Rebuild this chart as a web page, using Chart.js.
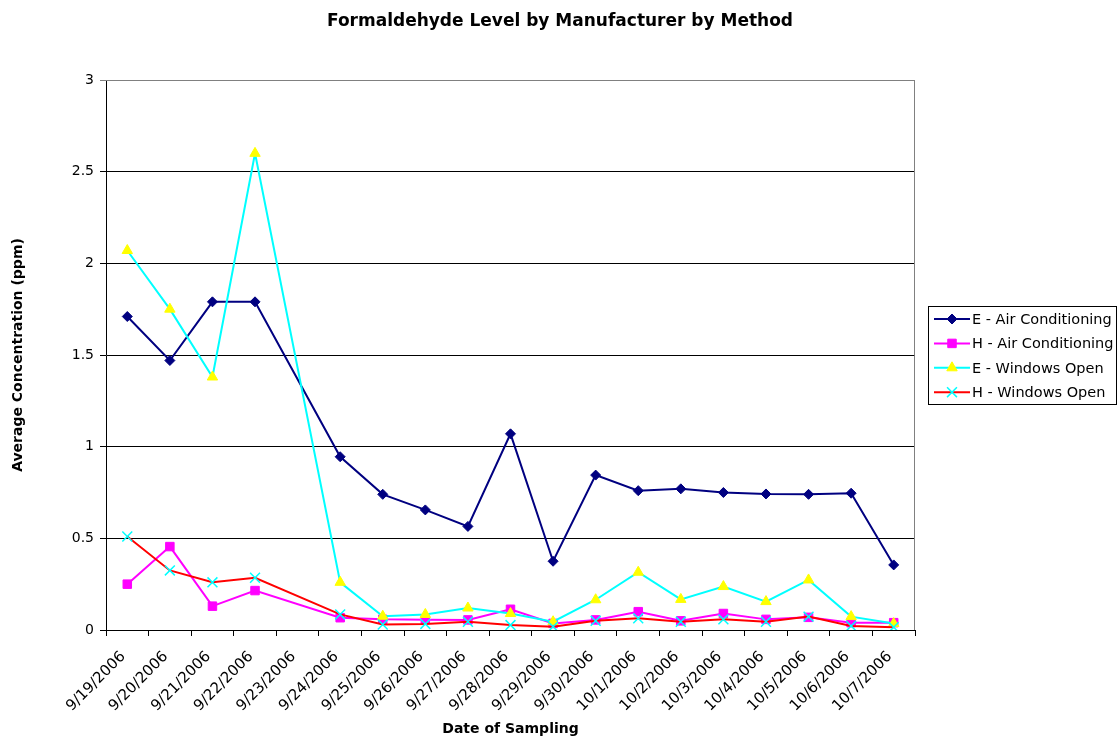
<!DOCTYPE html>
<html>
<head>
<meta charset="utf-8">
<title>Formaldehyde Level by Manufacturer by Method</title>
<script src="https://cdn.jsdelivr.net/npm/chart.js@4.4.1/dist/chart.umd.min.js"></script>
<style>
  html, body { margin: 0; padding: 0; background: #fff; }
  #wrap { width: 1120px; height: 738px; }
</style>
</head>
<body>
<div id="wrap"><canvas id="formChart" width="1120" height="738"></canvas></div>
<script>
const chartTitle = 'Formaldehyde Level by Manufacturer by Method';
const xTitle = 'Date of Sampling';
const yTitle = 'Average Concentration (ppm)';

const dates = ['9/19/2006', '9/20/2006', '9/21/2006', '9/22/2006', '9/23/2006', '9/24/2006', '9/25/2006',
  '9/26/2006', '9/27/2006', '9/28/2006', '9/29/2006', '9/30/2006', '10/1/2006', '10/2/2006',
  '10/3/2006', '10/4/2006', '10/5/2006', '10/6/2006', '10/7/2006'];
const yTickLabels = ['0', '0.5', '1', '1.5', '2', '2.5', '3'];

// no sample on 9/23
const eAirConditioning = [1.71, 1.47, 1.79, 1.79, null, 0.945, 0.74, 0.655, 0.565, 1.07, 0.375, 0.845, 0.76, 0.77, 0.75, 0.742, 0.74, 0.746, 0.355];
const hAirConditioning = [0.25, 0.455, 0.13, 0.215, null, 0.067, 0.058, 0.056, 0.055, 0.113, 0.036, 0.055, 0.10, 0.05, 0.09, 0.058, 0.069, 0.04, 0.04];
const eWindowsOpen = [2.07, 1.75, 1.38, 2.6, null, 0.26, 0.075, 0.085, 0.12, 0.09, 0.045, 0.165, 0.315, 0.167, 0.237, 0.155, 0.273, 0.073, 0.035];
const hWindowsOpen = [0.51, 0.325, 0.26, 0.285, null, 0.085, 0.03, 0.033, 0.045, 0.027, 0.018, 0.05, 0.064, 0.045, 0.058, 0.045, 0.073, 0.022, 0.015];

const FONT = '"DejaVu Sans", "Liberation Sans", sans-serif';

// title, plot frame and excel-like legend (line + marker)
const decorPlugin = {
  id: 'decor',
  beforeDatasetsDraw(chart) {
    const { ctx, chartArea: a } = chart;
    ctx.save();
    ctx.strokeStyle = '#808080';
    ctx.lineWidth = 1;
    ctx.beginPath();
    ctx.moveTo(a.left, a.top + 0.5);
    ctx.lineTo(a.right - 0.5, a.top + 0.5);
    ctx.lineTo(a.right - 0.5, a.bottom);
    ctx.stroke();
    ctx.restore();
  },
  afterDraw(chart) {
    const ctx = chart.ctx;
    ctx.save();
    ctx.fillStyle = '#000';
    ctx.font = 'bold 17px ' + FONT;
    ctx.textAlign = 'center';
    ctx.textBaseline = 'alphabetic';
    ctx.fillText(chartTitle, chart.width / 2, 26);

    ctx.strokeStyle = '#000';
    ctx.lineWidth = 1;
    ctx.strokeRect(928.5, 306.5, 188, 98);

    ctx.font = '14.5px ' + FONT;
    ctx.textAlign = 'left';
    ctx.textBaseline = 'middle';
    chart.data.datasets.forEach((ds, i) => {
      const y = 319 + i * 24.4;
      ctx.strokeStyle = ds.borderColor;
      ctx.lineWidth = ds.borderWidth;
      ctx.beginPath();
      ctx.moveTo(934, y);
      ctx.lineTo(970, y);
      ctx.stroke();
      ctx.fillStyle = ds.pointBackgroundColor;
      ctx.strokeStyle = ds.pointBorderColor;
      ctx.lineWidth = ds.pointBorderWidth;
      Chart.helpers.drawPoint(ctx, {
        pointStyle: ds.pointStyle, radius: ds.pointRadius, rotation: 0, borderWidth: ds.pointBorderWidth
      }, 952, y);
      ctx.fillStyle = '#000';
      ctx.fillText(ds.label, 972, y + 1);
    });
    ctx.restore();
  }
};

const ctx = document.getElementById('formChart');
new Chart(ctx, {
  type: 'line',
  data: {
    labels: dates,
    datasets: [{
      label: 'E - Air Conditioning',
      data: eAirConditioning,
      borderColor: '#000080',
      pointBackgroundColor: '#000080',
      pointBorderColor: '#000080',
      pointStyle: 'rectRot',
      pointRadius: 5,
      pointBorderWidth: 1,
      order: 4
    },
    {
      label: 'H - Air Conditioning',
      data: hAirConditioning,
      borderColor: '#ff00ff',
      pointBackgroundColor: '#ff00ff',
      pointBorderColor: '#ff00ff',
      pointStyle: 'rect',
      pointRadius: 6,
      pointBorderWidth: 1,
      order: 3
    },
    {
      label: 'E - Windows Open',
      data: eWindowsOpen,
      borderColor: '#00ffff',
      pointBackgroundColor: '#ffff00',
      pointBorderColor: '#ffff00',
      pointStyle: 'triangle',
      pointRadius: 6,
      pointBorderWidth: 1,
      order: 2
    },
    {
      label: 'H - Windows Open',
      data: hWindowsOpen,
      borderColor: '#ff0000',
      pointBackgroundColor: '#00ffff',
      pointBorderColor: '#00ffff',
      pointStyle: 'crossRot',
      pointRadius: 7,
      pointBorderWidth: 1.5,
      order: 1
    }].map(ds => Object.assign({ borderWidth: 2, tension: 0, spanGaps: true, fill: false }, ds))
  },
  options: {
    responsive: false,
    animation: false,
    devicePixelRatio: 1,
    layout: {
      padding: { top: 80, right: 205, left: 0, bottom: 0 }
    },
    plugins: {
      legend: { display: false },
      title: { display: false },
      tooltip: { enabled: false }
    },
    scales: {
      x: {
        offset: true,
        afterFit: (scale) => { scale.height = 108; },
        grid: {
          offset: true,
          drawOnChartArea: false,
          drawTicks: true,
          tickLength: 6,
          color: '#000'
        },
        border: { color: '#000', width: 1 },
        ticks: {
          autoSkip: false,
          minRotation: 45,
          maxRotation: 45,
          padding: 12,
          labelOffset: -4,
          color: '#000',
          font: { family: FONT, size: 15 }
        },
        title: {
          display: true,
          text: xTitle,
          color: '#000',
          font: { family: FONT, size: 14, weight: 'bold' },
          padding: { top: 0, bottom: 0 }
        }
      },
      y: {
        min: 0,
        max: 3,
        afterFit: (scale) => { scale.width = 106; },
        grid: {
          color: (c) => (c.tick && c.tick.value === 3 ? '#808080' : '#000'),
          tickLength: 6
        },
        border: { color: '#000', width: 1 },
        ticks: {
          stepSize: 0.5,
          padding: 6,
          color: '#000',
          font: { family: FONT, size: 14 },
          callback: (value, index) => yTickLabels[index]
        },
        title: {
          display: true,
          text: yTitle,
          color: '#000',
          font: { family: FONT, size: 14, weight: 'bold' },
          padding: { top: 10, bottom: 0 }
        }
      }
    }
  },
  plugins: [decorPlugin]
});
</script>
</body>
</html>
